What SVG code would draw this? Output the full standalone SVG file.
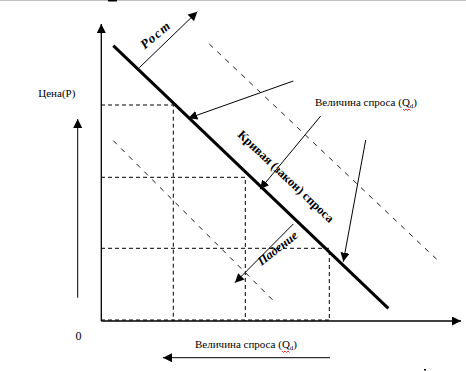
<svg xmlns="http://www.w3.org/2000/svg" width="466" height="371" viewBox="0 0 466 371">
<style>
.ax{stroke:#000;stroke-width:1.3;fill:none}
.thin{stroke:#000;stroke-width:1;fill:none}
.grid{stroke:#000;stroke-width:1;fill:none;stroke-dasharray:4,3}
.diag{stroke:#000;stroke-width:0.9;fill:none;stroke-dasharray:5,6}
.lbl{font-family:"Liberation Serif","Times New Roman",serif;font-size:11px;fill:#000}
.bold{font-family:"Liberation Serif","Times New Roman",serif;font-weight:bold;fill:#000}
.bi{font-family:"Liberation Serif","Times New Roman",serif;font-weight:bold;font-style:italic;fill:#000}
</style>
<defs>
<marker id="ah" markerUnits="userSpaceOnUse" markerWidth="10" markerHeight="9" refX="9" refY="4.5" orient="auto">
<path d="M0,0 L9,4.5 L0,9 z" fill="#000"/>
</marker>
</defs>
<rect x="0" y="0" width="466" height="371" fill="#fff"/>
<line x1="0" y1="0.5" x2="466" y2="0.5" stroke="#c0c0c0" stroke-width="1"/>
<rect x="108" y="0" width="9" height="1.5" fill="#000"/>
<g id="connectors">
<path class="grid" d="M101,105 H173.3 V321 M101,177.3 H245.3 V321 M101,248.3 H329.3 V321 M101,320 H329.3"/>
<line class="diag" x1="209.3" y1="44" x2="436.7" y2="259.3"/>
<line class="diag" x1="113.3" y1="140.7" x2="276.7" y2="304"/>
<line class="ax" x1="101.3" y1="321" x2="101.3" y2="24" marker-end="url(#ah)"/>
<line class="ax" x1="101.3" y1="321" x2="461" y2="321" marker-end="url(#ah)"/>
<line class="thin" x1="77.7" y1="297.7" x2="77.7" y2="119" marker-end="url(#ah)"/>
<line class="thin" x1="330" y1="357.7" x2="163" y2="357.7" marker-end="url(#ah)"/>
<line x1="113.3" y1="45.7" x2="388.3" y2="308.3" stroke="#000" stroke-width="3"/>
<line class="thin" x1="139.3" y1="67.7" x2="197.3" y2="11.7" marker-end="url(#ah)"/>
<line class="thin" x1="293.3" y1="81" x2="188.3" y2="118.3" marker-end="url(#ah)"/>
<line class="thin" x1="320.7" y1="116" x2="260" y2="189.3" marker-end="url(#ah)"/>
<line class="thin" x1="365.7" y1="140" x2="343.3" y2="261.7" marker-end="url(#ah)"/>
<line class="thin" x1="293.3" y1="224" x2="235" y2="282.7" marker-end="url(#ah)"/>
</g>
<g id="label-price">
<text class="lbl" x="38.3" y="97">Цена(P)</text>
</g>
<g id="label-zero">
<text class="lbl" x="75.5" y="340" style="font-size:12px">0</text>
</g>
<g id="label-qd-top">
<text class="lbl" x="315" y="106">Величина спроса (Q<tspan font-size="7" dy="2">d</tspan><tspan dy="-2">)</tspan></text>
<path d="M403,109 l1.5,1.5 l1.5,-1.5 l1.5,1.5 l1.5,-1.5 l1.5,1.5" stroke="#e00000" stroke-width="0.8" fill="none"/>
</g>
<g id="label-qd-bottom">
<text class="lbl" x="195" y="348">Величина спроса (Q<tspan font-size="7" dy="2">d</tspan><tspan dy="-2">)</tspan></text>
<path d="M282,351 l1.5,1.5 l1.5,-1.5 l1.5,1.5 l1.5,-1.5 l1.5,1.5" stroke="#e00000" stroke-width="0.8" fill="none"/>
</g>
<g id="label-curve">
<text class="bold" font-size="12.5" text-anchor="middle" transform="translate(285.8,176.5) rotate(43.5)" x="0" y="4">Кривая (закон) спроса</text>
</g>
<g id="label-rost">
<text class="bi" font-size="13" letter-spacing="1.5" text-anchor="middle" transform="translate(155.8,35) rotate(-40)" x="0" y="4">Рост</text>
</g>
<g id="label-padenie">
<text class="bi" font-size="12.5" text-anchor="middle" transform="translate(277.5,248.3) rotate(-38)" x="0" y="4">Падение</text>
</g>
<rect x="424" y="369" width="2" height="1.5" fill="#000"/>
</svg>
